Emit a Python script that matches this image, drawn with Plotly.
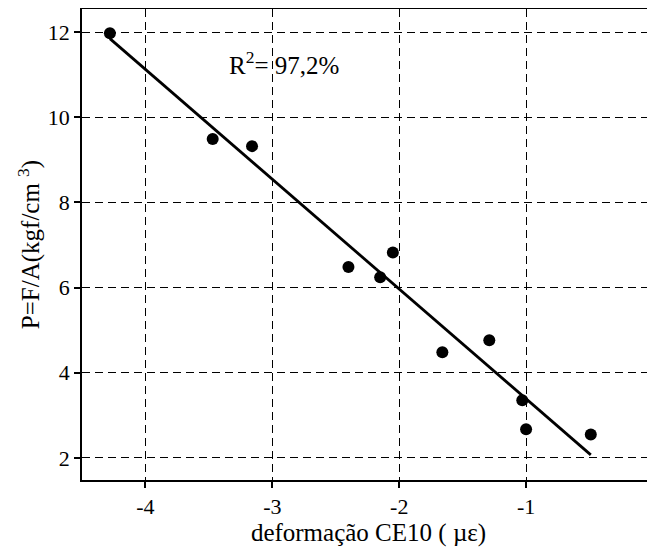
import numpy as np
import plotly.graph_objects as go

# data
deformacao = [-4.28, -3.47, -3.16, -2.40, -2.15, -2.05, -1.66, -1.29, -1.03, -1.00, -0.49]
pressao = [11.97, 9.49, 9.32, 6.48, 6.24, 6.82, 4.48, 4.76, 3.35, 2.67, 2.55]
x_ticks = [-4, -3, -2, -1, 0]
x_tick_labels = ["-4", "-3", "-2", "-1", "0"]
y_ticks = [2, 4, 6, 8, 10, 12]
y_tick_labels = ["2", "4", "6", "8", "10", "12"]
r2_text = "R<sup>2</sup>= 97,2%"

coef = np.polyfit(deformacao, pressao, 1)
x_fit = np.array([min(deformacao), max(deformacao)])
y_fit = np.polyval(coef, x_fit)

font = "Liberation Serif, Times New Roman, serif"

fig = go.Figure()
fig.add_trace(go.Scatter(x=x_fit, y=y_fit, mode="lines",
                         line=dict(color="black", width=2.8), showlegend=False))
fig.add_trace(go.Scatter(x=deformacao, y=pressao, mode="markers",
                         marker=dict(color="black", size=12), showlegend=False))

fig.add_annotation(x=-3.36, y=11.28, xref="x", yref="y", text=r2_text,
                   showarrow=False, xanchor="left", yanchor="middle",
                   font=dict(family=font, size=25, color="black"))

axis_common = dict(
    showline=True, linecolor="black", linewidth=1.5,
    ticks="outside", ticklen=6, tickwidth=1.5, tickcolor="black",
    showgrid=True, gridcolor="black", gridwidth=1.3, griddash="8px,5px",
    zeroline=False, automargin=False, ticklabeloverflow="allow",
    tickfont=dict(family=font, size=22, color="black"),
)

fig.update_xaxes(range=[-4.5, 0.016], tickvals=x_ticks, ticktext=x_tick_labels, mirror=True,
                 title=dict(text="deformação CE10 ( µε)", standoff=4,
                            font=dict(family=font, size=25, color="black")),
                 **axis_common)
fig.update_yaxes(range=[1.48, 12.54], tickvals=y_ticks, ticktext=y_tick_labels,
                 title=dict(text="P=F/A(kgf/cm <sup>3</sup>)", standoff=1,
                            font=dict(family=font, size=25, color="black")),
                 **axis_common)

# the page body adds an 8px margin, so the figure is sized to fill the window
fig.update_layout(width=647, height=544,
                  margin=dict(l=74, r=0, t=1, b=72),
                  plot_bgcolor="white", paper_bgcolor="white",
                  font=dict(family=font, color="black"))

fig.write_html("out.html")
